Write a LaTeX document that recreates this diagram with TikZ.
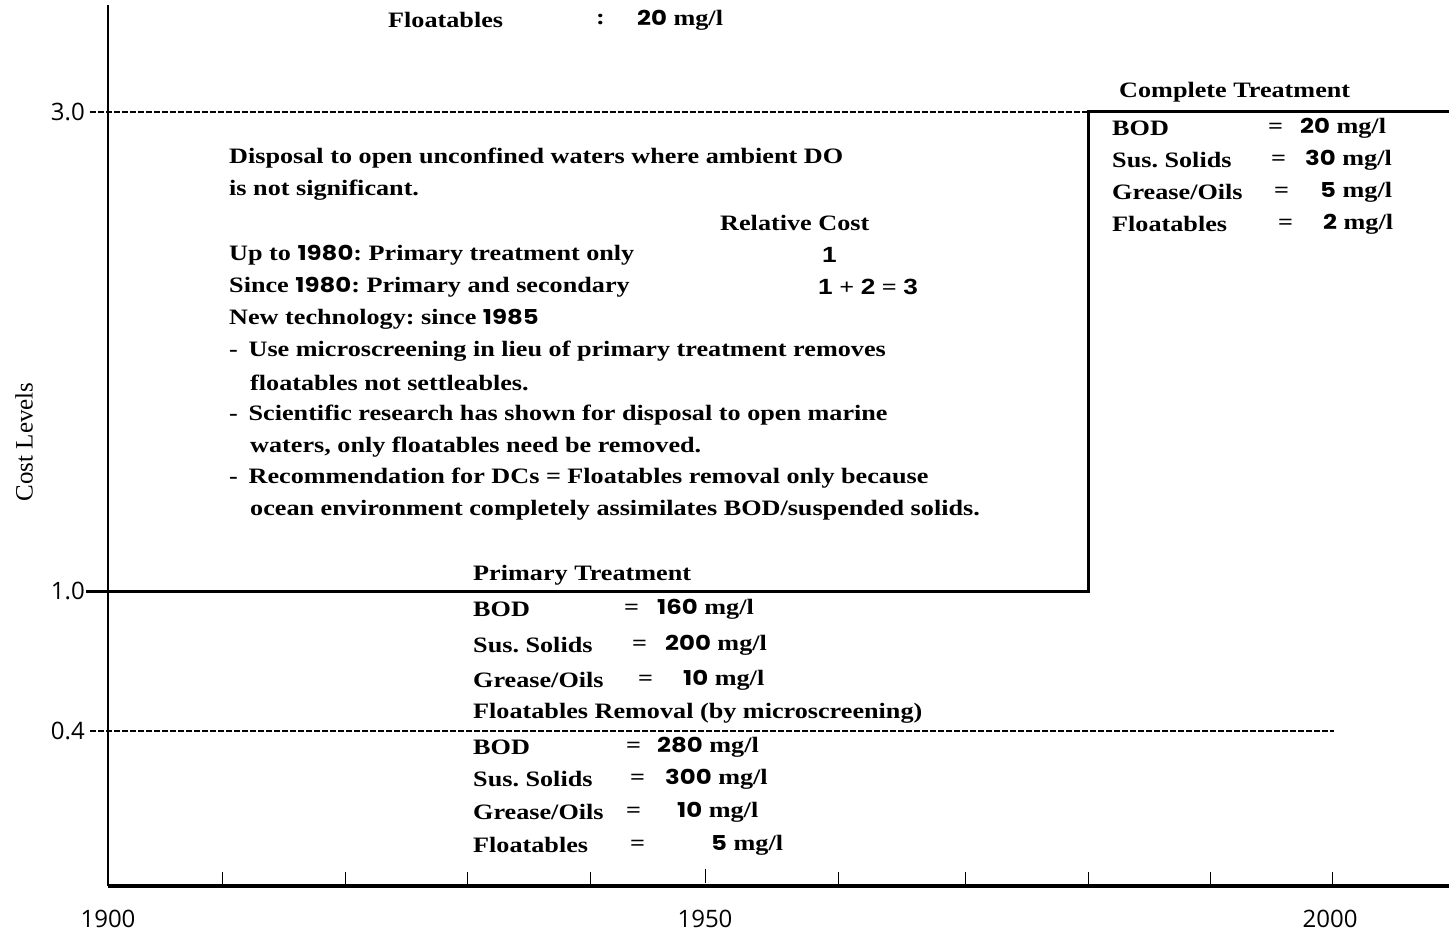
\documentclass[tikz,border=0pt]{standalone}
\usepackage{fontspec}
\setmainfont{Liberation Serif}
\newfontfamily\numf{Poppins}
\newfontfamily\arialf{Liberation Sans}
\newfontfamily\axf{Open Sans}
\newcommand{\nm}[1]{{\numf\fontsize{20.5}{20.5}\selectfont #1}}
\newcommand{\ar}[1]{{\arialf\bfseries #1}}
\newcommand{\sx}[1]{\scalebox{1.19}[1]{#1}}
\frenchspacing
\begin{document}
\begin{tikzpicture}[x=1pt,y=-1pt,
  txt/.style={anchor=west,inner sep=0pt,font=\bfseries\fontsize{22}{22}\selectfont},
  axlab/.style={anchor=east,inner sep=0pt,font=\axf\fontsize{24}{24}\selectfont},
  yearlab/.style={anchor=center,inner sep=0pt,font=\axf\fontsize{24}{24}\selectfont},
  solidline/.style={line width=3pt},
  dashline/.style={line width=2pt,dash pattern=on 6pt off 2pt},
  tickline/.style={line width=1pt}]
\useasboundingbox (0,0) rectangle (1449,933);

% axes
\coordinate (yaxT) at (108,5);
\coordinate (yaxB) at (108,886);
\coordinate (xaxR) at (1449,886);
\draw[line width=2.5pt] (yaxT) -- (yaxB);
\draw[line width=4pt] (yaxB) -- (xaxR);
\foreach \tx/\tn in {222/t1,345/t2,467/t3,590/t4,838/t6,965/t7,1088/t8,1210/t9,1332/t10}{
  \coordinate (\tn a) at (\tx,872);
  \coordinate (\tn b) at (\tx,886);
  \draw[tickline] (\tn a) -- (\tn b);
}
\coordinate (t5a) at (705,869);
\coordinate (t5b) at (705,883);
\draw[tickline] (t5a) -- (t5b);

% levels
\coordinate (l3L) at (90,112);
\coordinate (l3R) at (1088,112);
\coordinate (l3E) at (1449,112);
\coordinate (l1L) at (86,591);
\coordinate (l1R) at (1088,591);
\coordinate (l4L) at (90,731);
\coordinate (l4R) at (1334,731);
\draw[dashline] (l3L) -- (l3R);
\draw[solidline] (l1L) -- (l1R) -- (l3R) -- (l3E);
\draw[dashline] (l4L) -- (l4R);

% axis labels
\node[axlab] (y3) at (85,112) {3.0};
\node[axlab] (y1) at (85,591) {1.0};
\node[axlab] (y4) at (85,731) {0.4};
\node[yearlab] (x1900) at (108,919) {1900};
\node[yearlab] (x1950) at (705,919) {1950};
\node[yearlab] (x2000) at (1330,919) {2000};
\node[rotate=90,inner sep=0pt,font=\fontsize{25}{25}\selectfont] (cost) at (24,442) {Cost Levels};

% top
\node[txt] (topf) at (388,20) {\sx{Floatables}};
\node[txt] (topc) at (596,20) {\sx{:}};
\node[txt] (topv) at (637,20) {\sx{\nm{20} mg/l}};

% complete treatment
\node[txt] (ct) at (1119,92) {\sx{Complete Treatment}};
\node[txt] (ct1) at (1112,128) {\sx{BOD}};
\node[txt] (ct1e) at (1268,128) {\sx{=}};
\node[txt] (ct1v) at (1300,128) {\sx{\nm{20} mg/l}};
\node[txt] (ct2) at (1112,160) {\sx{Sus. Solids}};
\node[txt] (ct2e) at (1271,160) {\sx{=}};
\node[txt] (ct2v) at (1305,160) {\sx{\nm{30} mg/l}};
\node[txt] (ct3) at (1112,192) {\sx{Grease/Oils}};
\node[txt] (ct3e) at (1274,192) {\sx{=}};
\node[txt] (ct3v) at (1320,192) {\sx{\nm{5} mg/l}};
\node[txt] (ct4) at (1112,224) {\sx{Floatables}};
\node[txt] (ct4e) at (1278,224) {\sx{=}};
\node[txt] (ct4v) at (1323,224) {\sx{\nm{2} mg/l}};

% main text
\node[txt] (m1) at (229,158) {\sx{Disposal to open unconfined waters where ambient DO}};
\node[txt] (m2) at (229,190) {\sx{is not significant.}};
\node[txt] (rc) at (720,223) {\sx{Relative Cost}};
\node[txt] (m3) at (229,255) {\sx{Up to \nm{1980}: Primary treatment only}};
\node[txt] (rc1) at (822,255) {\sx{\ar{1}}};
\node[txt] (m4) at (229,287) {\sx{Since \nm{1980}: Primary and secondary}};
\node[txt] (rc2) at (818,287) {\sx{\ar{1} + \ar{2} = \ar{3}}};
\node[txt] (m5) at (229,319) {\sx{New technology: since \nm{1985}}};
\node[txt] (m6) at (229,351) {\sx{-\hspace{9pt}Use microscreening in lieu of primary treatment removes}};
\node[txt] (m7) at (250,383) {\sx{floatables not settleables.}};
\node[txt] (m8) at (229,415) {\sx{-\hspace{9pt}Scientific research has shown for disposal to open marine}};
\node[txt] (m9) at (250,447) {\sx{waters, only floatables need be removed.}};
\node[txt] (m10) at (229,478) {\sx{-\hspace{9pt}Recommendation for DCs = Floatables removal only because}};
\node[txt] (m11) at (250,510) {\sx{ocean environment completely assimilates BOD/suspended solids.}};

% primary treatment
\node[txt] (pt) at (473,575) {\sx{Primary Treatment}};
\node[txt] (pt1) at (473,609) {\sx{BOD}};
\node[txt] (pt1e) at (624,609) {\sx{=}};
\node[txt] (pt1v) at (657,609) {\sx{\nm{160} mg/l}};
\node[txt] (pt2) at (473,645) {\sx{Sus. Solids}};
\node[txt] (pt2e) at (632,645) {\sx{=}};
\node[txt] (pt2v) at (665,645) {\sx{\nm{200} mg/l}};
\node[txt] (pt3) at (473,680) {\sx{Grease/Oils}};
\node[txt] (pt3e) at (638,680) {\sx{=}};
\node[txt] (pt3v) at (683,680) {\sx{\nm{10} mg/l}};

% floatables removal
\node[txt] (fr) at (473,713) {\sx{Floatables Removal (by microscreening)}};
\node[txt] (fr1) at (473,747) {\sx{BOD}};
\node[txt] (fr1e) at (626,747) {\sx{=}};
\node[txt] (fr1v) at (657,747) {\sx{\nm{280} mg/l}};
\node[txt] (fr2) at (473,779) {\sx{Sus. Solids}};
\node[txt] (fr2e) at (630,779) {\sx{=}};
\node[txt] (fr2v) at (665,779) {\sx{\nm{300} mg/l}};
\node[txt] (fr3) at (473,812) {\sx{Grease/Oils}};
\node[txt] (fr3e) at (626,812) {\sx{=}};
\node[txt] (fr3v) at (677,812) {\sx{\nm{10} mg/l}};
\node[txt] (fr4) at (473,845) {\sx{Floatables}};
\node[txt] (fr4e) at (630,845) {\sx{=}};
\node[txt] (fr4v) at (711,845) {\sx{\nm{5} mg/l}};
\end{tikzpicture}
\end{document}
